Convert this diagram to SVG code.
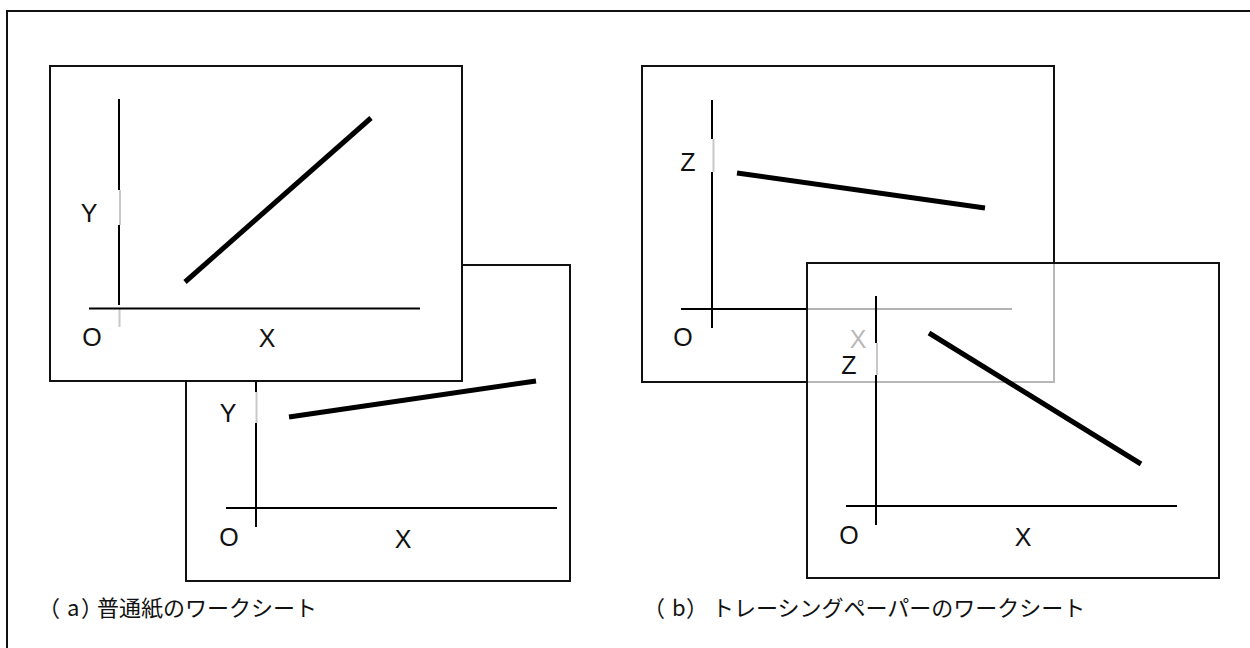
<svg xmlns="http://www.w3.org/2000/svg" width="1250" height="648" viewBox="0 0 1250 648">
<style>
.sheet{fill:#fff;stroke:#111;stroke-width:2}
.ax{stroke:#000;stroke-width:2;fill:none}
.axg{stroke:#c8c8c8;stroke-width:2;fill:none}
.pen{stroke:#000;stroke-width:5;fill:none}
.lbl{font-family:"Liberation Sans","Noto Sans",sans-serif;font-size:25px;fill:#111;text-anchor:middle}
.cap{font-family:"Noto Sans CJK JP","Noto Sans",sans-serif;font-size:22px;fill:#111}
</style>
<rect width="1250" height="648" fill="#fff"/>
<g id="frame"><path d="M7 648 V11 H1250" fill="none" stroke="#111" stroke-width="2"/></g>

<g id="sheet-a2">
<rect class="sheet" x="186" y="265" width="384" height="316"/>
<path class="ax" d="M256 381 V392 M256 423 V508"/>
<path class="axg" d="M256.5 392 V423" stroke="#999"/>
<path class="ax" d="M256 508 V527" stroke="#444"/>
<path class="ax" d="M226 508 H557"/>
<path class="pen" d="M289 417 L536 381"/>
<text class="lbl" x="228" y="422">Y</text>
<text class="lbl" x="229" y="546">O</text>
<text class="lbl" x="403" y="548">X</text>
</g>
<g id="sheet-a1">
<rect class="sheet" x="50" y="66" width="412" height="315"/>
<path class="ax" d="M119 99 V190 M119 225 V305" stroke-width="1.3"/>
<path class="axg" d="M120 190 V225 M119.5 309 V327" stroke-width="1.3" stroke="#aaa"/>
<path class="ax" d="M89 308.5 H420" stroke-width="1.3"/>
<path class="pen" d="M185 282 L371 118"/>
<text class="lbl" x="89" y="222">Y</text>
<text class="lbl" x="92" y="346">O</text>
<text class="lbl" x="267" y="347">X</text>
</g>

<g id="sheet-b1">
<rect class="sheet" x="642" y="66" width="412" height="316"/>
<path class="ax" d="M712 100 V139 M712 172 V328"/>
<path class="axg" d="M713.5 139 V172" stroke="#777" stroke-width="1.3"/>
<path class="ax" d="M681 309 H1012"/>
<path class="pen" d="M737 173 L985 208"/>
<text class="lbl" x="688" y="171">Z</text>
<text class="lbl" x="683" y="346">O</text>
<text class="lbl" x="858" y="348">X</text>
</g>
<g id="sheet-b2">
<rect x="807" y="263" width="412" height="315" fill="#fff" fill-opacity="0.7" stroke="#111" stroke-width="2"/>
<path class="ax" d="M876 296 V343 M876 375 V525"/>
<path class="axg" d="M877 343 V375" stroke="#555" stroke-width="1.3"/>
<path class="ax" d="M846 506 H1177"/>
<path class="pen" d="M929 333 L1141 464"/>
<text class="lbl" x="849" y="374">Z</text>
<text class="lbl" x="849" y="544">O</text>
<text class="lbl" x="1023" y="546">X</text>
</g>

<g id="captions">
<text class="cap" x="38 67 81 97" y="616">（a）普通紙のワークシート</text>
<text class="cap" x="643 672 686 712" y="616">（b）トレーシングペーパーのワークシート</text>
</g>
</svg>
